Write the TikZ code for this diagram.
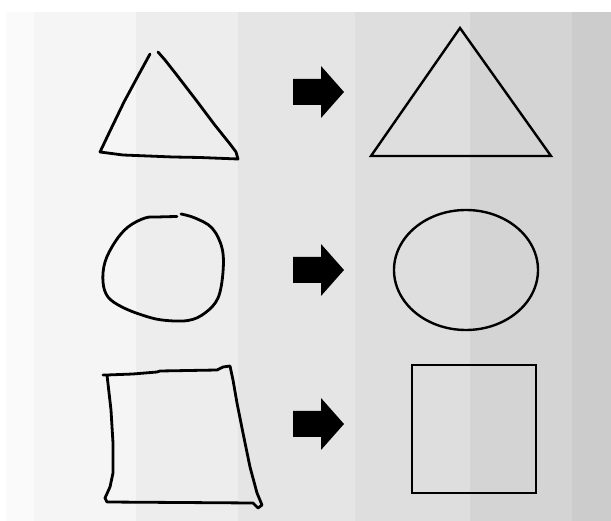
\documentclass[tikz,border=0pt]{standalone}
\usepackage{tikz}

\tikzset{
  sketch/.style={line width=2.8pt, line join=round, line cap=round},
  clean/.style={line width=2.4pt, line join=miter},
  blockarrow/.style={fill=black},
}

\begin{document}
\begin{tikzpicture}[x=1pt,y=-1pt]
\useasboundingbox (0,0) rectangle (611,521);
\fill[white] (0,0) rectangle (611,521);
% background bands, light to dark
\foreach \xa/\xb/\shade in {6/34/2, 34/136/4, 136/238/7, 238/355/10, 355/470/13, 470/572/17, 572/611/20}
  \fill[black!\shade] (\xa,12) rectangle (\xb,521);

% hand-drawn shapes
\draw[sketch] (150,54) -- (138,76) -- (124,102) -- (110,131) -- (100,152)
  -- (123,155) -- (173,157) -- (200,157.5) -- (238,159)
  -- (236,152) -- (230,144) -- (214,124) -- (196,100) -- (176,74) -- (165,60) -- (158,52);
\draw[sketch] plot[smooth, tension=0.6] coordinates {(177,216.5) (158,217) (145,218) (128,227) (115,242)
  (105,262) (103,282) (108,297) (122,307) (142,315) (162,320) (188,320.5) (205,313)
  (218,298) (223,272) (222,248) (212,228) (195,218) (181,214)};
\draw[sketch] (107,375) -- (133,374) -- (157,372) -- (160,371) -- (217,370) -- (223,367) -- (230,366)
  -- (233,380) -- (237,403) -- (243,433) -- (250,467) -- (257,493) -- (262,505) -- (258,508) -- (253,503)
  -- (107,502) -- (105,498) -- (110,487) -- (113,473) -- (113,443) -- (111,410) -- (107,375) -- (103,375);

% arrows
\foreach \ya in {92,270,424}
  \fill[blockarrow] (293,\ya-13) -- (321,\ya-13) -- (321,\ya-26) -- (344,\ya)
    -- (321,\ya+26) -- (321,\ya+13) -- (293,\ya+13) -- cycle;

% clean shapes
\draw[clean] (460,28) -- (371,156) -- (551,156) -- cycle;
\draw[clean] (466,270) ellipse [x radius=72, y radius=60];
\draw[clean] (412,365) rectangle (536,493);
\end{tikzpicture}
\end{document}
